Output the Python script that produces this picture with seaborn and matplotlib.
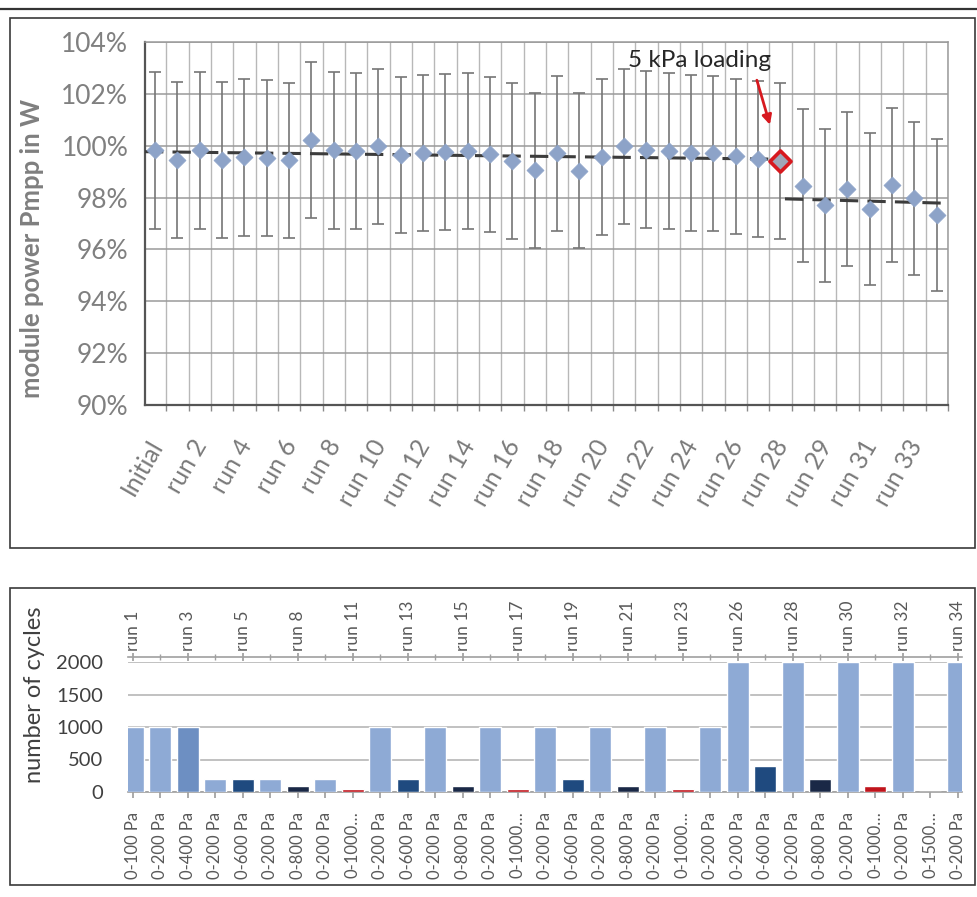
import numpy as np
import pandas as pd
import matplotlib
matplotlib.use("Agg")
import matplotlib.pyplot as plt
import matplotlib.transforms as mtransforms
import seaborn as sns
from matplotlib.patches import Rectangle
from matplotlib.lines import Line2D
from matplotlib.ticker import MultipleLocator, FixedLocator, FuncFormatter

# ---------------- data: module power after each load run ----------------
run_names = [
    "Initial", "run 1", "run 2", "run 3", "run 4", "run 5", "run 6", "run 7",
    "run 8", "run 9", "run 10", "run 11", "run 12", "run 13", "run 14",
    "run 15", "run 16", "run 17", "run 18", "run 19", "run 20", "run 21",
    "run 22", "run 23", "run 24", "run 25", "run 26", "run 27", "run 28",
    "5 kPa", "run 29", "run 30", "run 31", "run 32", "run 33", "run 34",
]
pmpp_pct = [
    99.83, 99.46, 99.83, 99.46, 99.55, 99.52, 99.43, 100.23, 99.83, 99.80,
    99.97, 99.64, 99.71, 99.77, 99.78, 99.67, 99.40, 99.05, 99.70, 99.04,
    99.56, 99.97, 99.85, 99.80, 99.71, 99.70, 99.60, 99.48, 99.42, 98.45,
    97.70, 98.34, 97.55, 98.48, 97.97, 97.33,
]
pmpp_err = [
    3.03, 3.01, 3.03, 3.01, 3.02, 3.02, 3.00, 3.01, 3.03, 3.01,
    3.00, 3.00, 3.00, 3.01, 3.01, 2.99, 3.00, 3.00, 3.00, 2.98,
    3.00, 2.99, 3.03, 3.00, 3.00, 3.00, 2.99, 3.00, 3.00, 2.95,
    2.95, 2.97, 2.94, 2.96, 2.96, 2.93,
]
loading_run = 28          # index of the run followed by the 5 kPa load
# trend levels before / after the 5 kPa load (start, end)
trend_before = [99.77, 99.48]
trend_after = [97.95, 97.78]

# ---------------- data: cyclic load sequence ----------------
load_labels = [
    "0-100 Pa", "0-200 Pa", "0-400 Pa", "0-200 Pa", "0-600 Pa", "0-200 Pa",
    "0-800 Pa", "0-200 Pa", "0-1000…", "0-200 Pa", "0-600 Pa", "0-200 Pa",
    "0-800 Pa", "0-200 Pa", "0-1000…", "0-200 Pa", "0-600 Pa", "0-200 Pa",
    "0-800 Pa", "0-200 Pa", "0-1000…", "0-200 Pa", "0-200 Pa", "0-600 Pa",
    "0-200 Pa", "0-800 Pa", "0-200 Pa", "0-1000…", "0-200 Pa", "0-1500…",
    "0-200 Pa",
]
cycles = [
    1000, 1000, 1000, 200, 200, 200, 100, 200, 50, 1000, 200, 1000, 100,
    1000, 50, 1000, 200, 1000, 100, 1000, 50, 1000, 2000, 400, 2000, 200,
    2000, 100, 2000, 0, 2000,
]
top_run_labels = [
    "run 1", "run 3", "run 5", "run 8", "run 11", "run 13", "run 15",
    "run 17", "run 19", "run 21", "run 23", "run 26", "run 28", "run 30",
    "run 32", "run 34",
]
load_colors = {
    "0-100 Pa": "#8eaad5", "0-200 Pa": "#8eaad5", "0-400 Pa": "#6d8fc2",
    "0-600 Pa": "#1f4a7f", "0-800 Pa": "#1a2846", "0-1000…": "#c0141c",
    "0-1500…": "#e06060",
}

sns.set_theme(style="white")
plt.rcParams["font.family"] = ["Lato", "DejaVu Sans"]

W, H = 977, 897
fig = plt.figure(figsize=(W / 100, H / 100), dpi=100)


def frac_box(x0, y0, x1, y1):
    return [x0 / W, 1 - y1 / H, (x1 - x0) / W, (y1 - y0) / H]


# panel frames and top rule
fig.add_artist(Line2D([0, 1], [1 - 9 / H, 1 - 9 / H], color="#333333",
                      lw=1.6, transform=fig.transFigure))
for (x0, y0, x1, y1) in [(10, 18, 975, 548), (10, 588, 975, 885)]:
    fig.add_artist(Rectangle((x0 / W, 1 - y1 / H), (x1 - x0) / W, (y1 - y0) / H,
                             transform=fig.transFigure, fill=False,
                             edgecolor="#3a3a3a", lw=1.2))

# ---------------- upper panel ----------------
ax = fig.add_axes(frac_box(145, 42, 948, 405))
df = pd.DataFrame({"idx": np.arange(len(pmpp_pct)), "pmpp": pmpp_pct,
                   "err": pmpp_err})

ax.set_xlim(-0.45, len(pmpp_pct) - 0.5)
ax.set_ylim(90, 104)
ax.yaxis.set_major_locator(MultipleLocator(2))
ax.yaxis.set_major_formatter(FuncFormatter(lambda v, p: f"{v:.0f}%"))
ax.xaxis.set_minor_locator(FixedLocator(np.arange(0.5, len(pmpp_pct), 1.0)))
ax.set_xticks(df["idx"][::2], run_names[::2])
ax.grid(axis="y", which="major", color="#9a9a9a", lw=1.1)
ax.grid(axis="x", which="minor", color="#b8b8b8", lw=1.0)
ax.grid(axis="x", which="major", visible=False)
ax.set_axisbelow(True)

ax.errorbar(df["idx"], df["pmpp"], yerr=df["err"], fmt="none",
            ecolor="#767676", elinewidth=1.2, capsize=4, capthick=1.2, zorder=2)

# dashed trend levels before and after the 5 kPa load
ax.plot([-0.45, loading_run], trend_before, color="#3c3c3c", lw=2.2,
        dashes=(6, 3), zorder=3)
ax.plot([loading_run + 0.2, len(pmpp_pct) - 0.5], trend_after,
        color="#3c3c3c", lw=2.2, dashes=(6, 3), zorder=3)

normal = df[df["idx"] != loading_run]
sns.scatterplot(data=normal, x="idx", y="pmpp", marker="D", s=75,
                color="#8da3c8", edgecolor="#8da3c8", linewidth=0.5,
                ax=ax, zorder=4)
special = df[df["idx"] == loading_run]
sns.scatterplot(data=special, x="idx", y="pmpp", marker="D", s=115,
                color="#a0a6b8", edgecolor="#d7191f", linewidth=2.6,
                ax=ax, zorder=5)

red_x = special["idx"].iloc[0]
red_y = special["pmpp"].iloc[0]
ax.annotate("", xy=(red_x, red_y), xycoords="data",
            xytext=(-17, 58), textcoords="offset points",
            arrowprops=dict(arrowstyle="-|>", color="#d7191f", lw=2.0,
                            shrinkA=0, shrinkB=27, mutation_scale=14),
            zorder=6)
ax.annotate("5 kPa loading", xy=(red_x, red_y), xycoords="data",
            xytext=(-58, 72), textcoords="offset points", ha="center",
            va="center", fontsize=17.5, color="#262626", zorder=6)

for s in ["left", "bottom"]:
    ax.spines[s].set_color("#555555")
    ax.spines[s].set_linewidth(1.6)
for s in ["top", "right"]:
    ax.spines[s].set_color("#9a9a9a")
    ax.spines[s].set_linewidth(1.1)

ax.tick_params(axis="y", labelsize=19, colors="#808080", length=0, pad=12)
ax.tick_params(axis="x", which="major", labelsize=18, labelcolor="#7a7a7a",
               length=0, pad=22)
ax.tick_params(axis="x", which="minor", length=4, color="#8a8a8a",
               direction="out", bottom=True)
shift_left = mtransforms.ScaledTranslation(-8 / 100, 0, fig.dpi_scale_trans)
for lab in ax.get_xticklabels():
    lab.set_rotation(60)
    lab.set_ha("right")
    lab.set_rotation_mode("anchor")
    lab.set_transform(lab.get_transform() + shift_left)
ax.set_xlabel("")
ax.set_ylabel("module power Pmpp in W", fontsize=18.5, fontweight="bold",
              color="#7f7f7f")
ax.yaxis.set_label_coords(-0.126, 0.43)

# ---------------- lower panel ----------------
bx = fig.add_axes(frac_box(128, 662, 962, 792))
bdf = pd.DataFrame({"slot": np.arange(len(cycles)), "cycles": cycles,
                    "load": load_labels})
sns.barplot(data=bdf, x="slot", y="cycles", hue="load", palette=load_colors,
            dodge=False, width=0.8, legend=False, ax=bx, saturation=1.0,
            zorder=3)
bx.set_xlim(-0.18, len(cycles) - 0.85)
bx.set_ylim(0, 2000)
bx.yaxis.set_major_locator(MultipleLocator(500))
bx.grid(axis="y", color="#b0b0b0", lw=1.1)
bx.grid(axis="x", visible=False)
bx.set_axisbelow(True)
bx.set_xticks(bdf["slot"], load_labels, rotation=90)
bx.tick_params(axis="x", labelsize=12, labelcolor="#595959", length=4,
               color="#a0a0a0", direction="out", bottom=True, pad=10)
bx.tick_params(axis="y", labelsize=14.5, labelcolor="#404040", length=0,
               pad=18)
for s in ["left", "right", "top"]:
    bx.spines[s].set_visible(False)
bx.spines["bottom"].set_color("#a0a0a0")
bx.spines["bottom"].set_linewidth(1.2)
bx.set_xlabel("")
bx.set_ylabel("number of cycles", fontsize=17, color="#404040")
bx.yaxis.set_label_coords(-0.10, 0.746)

sec = bx.secondary_xaxis(1.04)
sec.set_xticks(bdf["slot"][::2], top_run_labels, rotation=90)
sec.xaxis.set_minor_locator(FixedLocator(bdf["slot"][1::2]))
sec.tick_params(axis="x", which="major", labelsize=12.5, labelcolor="#595959",
                length=6, color="#a0a0a0", direction="inout", pad=1)
sec.tick_params(axis="x", which="minor", length=5, color="#a0a0a0",
                direction="inout")
sec.spines["top"].set_color("#a0a0a0")
sec.spines["top"].set_linewidth(1.2)

fig.savefig("out.png", dpi=100, facecolor="white")
